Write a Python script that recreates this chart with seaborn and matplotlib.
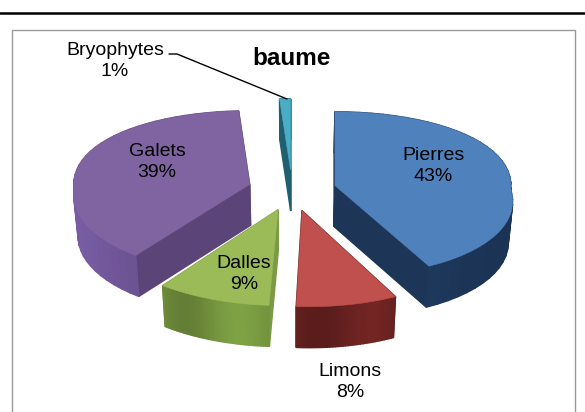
import numpy as np
import seaborn as sns
import matplotlib
matplotlib.use("Agg")
import matplotlib.pyplot as plt
from matplotlib.patches import Polygon

names = ["Pierres", "Limons", "Dalles", "Galets", "Bryophytes"]
values = [43, 8, 9, 39, 1]
top_hex = ["#4F81BD", "#C0504D", "#9BBB59", "#8064A2", "#4BACC6"]
cut_hex = ["#1D3557", "#5E1E1C", "#7C9A45", "#5B4578", "#1F5F70"]
wall_hex = ["#1F3A5F", "#66211F", "#71903C", "#6A5290", "#2A7488"]
title = "baume"
label_pos = [(433, 166), (350, 382), (244, 274), (157, 162), (115, 61)]

# projection of the tilted pie into pixel space
cx, cy = 292, 190
A, B = 176, 82
px, py = 0.14, 0.1
shear = 6
explode = 0.25
depth = 41


def project(X, Y):
    near = np.maximum(Y, 0)
    x = cx + A * X * (1 + px * near) + shear * near
    y = cy + B * Y / (1 - py * Y)
    return x, y


def drop(x, y):
    # bottom rim sits a bit lower and slightly narrower
    return cx + (x - cx) * 0.98, y + depth


def shade(col, f):
    return tuple(np.clip(np.array(col) * f, 0, 1))


sns.set_theme(style="white")
plt.rcParams["font.family"] = ["Liberation Sans", "DejaVu Sans"]
tops = sns.color_palette(top_hex)
cuts = sns.color_palette(cut_hex)
walls = sns.color_palette(wall_hex)

fig = plt.figure(figsize=(5.85, 4.12), dpi=100)
ax = fig.add_axes([0, 0, 1, 1])
ax.set_xlim(0, 585)
ax.set_ylim(412, 0)
ax.axis("off")

# page rule and chart frame (open at the bottom, the crop cuts it)
ax.plot([0, 585], [13, 13], color="black", lw=1.8)
ax.plot([12, 12, 575, 575], [420, 30, 30, 420], color="#9A9A9A", lw=1.0)

fracs = np.array(values) / sum(values)
edges = np.concatenate([[0], np.cumsum(fracs)]) * 2 * np.pi

slices = []
for i in range(len(values)):
    t = np.linspace(edges[i], edges[i + 1], 40)
    mid = (edges[i] + edges[i + 1]) / 2
    ox, oy = explode * np.sin(mid), -explode * np.cos(mid)
    X = np.concatenate([[ox], ox + np.sin(t)])
    Y = np.concatenate([[oy], oy - np.cos(t)])
    slices.append((oy, i, X, Y))

for oy, i, X, Y in sorted(slices, key=lambda s: s[0]):
    x, y = project(X, Y)
    bx, by = drop(x, y)
    n = len(x)
    quads = []
    for a in range(n):
        b = (a + 1) % n
        quads.append(((Y[a] + Y[b]) / 2, a, b))
    for _, a, b in sorted(quads, key=lambda q: q[0]):
        if a > 0 and b > 0:
            # outer wall gets a soft gradient along the arc
            f = 1.0 + 0.12 * np.sin((a / n) * 2 * np.pi)
            c = shade(walls[i], f)
        else:
            c = cuts[i]
        ax.add_patch(Polygon([(x[a], y[a]), (x[b], y[b]), (bx[b], by[b]), (bx[a], by[a])],
                             closed=True, fc=c, ec=c, lw=1.0))
    ax.add_patch(Polygon(np.column_stack([x, y]), closed=True, fc=tops[i], ec=tops[i], lw=0.4))

for name, v, (lx, ly) in zip(names, values, label_pos):
    ax.text(lx, ly, f"{name}\n{v}%", ha="center", va="center", fontsize=14,
            color="black", linespacing=1.25)

# leader line for the smallest slice
ax.plot([169, 177, 287], [54, 54, 99], color="black", lw=1.0)

ax.text(292, 58, title, ha="center", va="center", fontsize=17.5, fontweight="bold", color="black")

fig.savefig("out.png", dpi=100)
